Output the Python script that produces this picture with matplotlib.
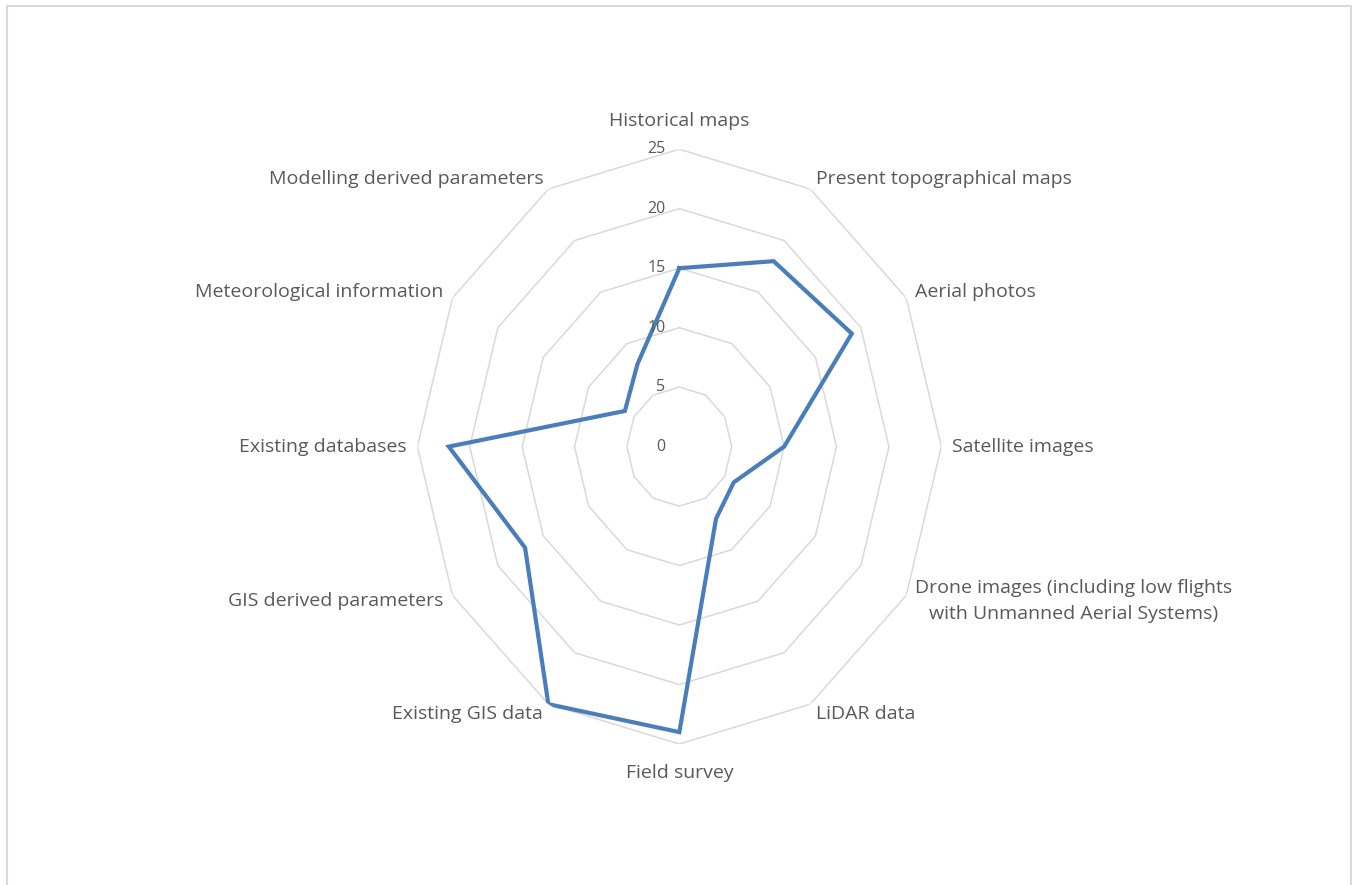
import numpy as np
import matplotlib.pyplot as plt
from matplotlib.patches import Rectangle

plt.rcParams['font.family'] = ['Open Sans', 'DejaVu Sans']

# categories, clockwise from the top
categories = ["Historical maps", "Present topographical maps", "Aerial photos",
              "Satellite images",
              "Drone images (including low flights\nwith Unmanned Aerial Systems)",
              "LiDAR data", "Field survey", "Existing GIS data",
              "GIS derived parameters", "Existing databases",
              "Meteorological information", "Modelling derived parameters"]
values = [15, 18, 19, 10, 6, 7, 24, 25, 17, 22, 6, 8]
rings = [5, 10, 15, 20, 25]
tick_labels = ["0", "5", "10", "15", "20", "25"]

n = len(categories)
theta = np.arange(n) * 2 * np.pi / n
theta_c = np.append(theta, theta[0])

fig = plt.figure(figsize=(13.56, 8.85), dpi=100)
# light frame of the chart area
fig.patches.append(Rectangle((7.3 / 1356, -0.05), (1351 - 7.3) / 1356, 1.05 - 5.7 / 885,
                             transform=fig.transFigure, fill=False,
                             edgecolor='#D9D9D9', lw=1.5))

ax = fig.add_axes([0.3078, 0.1593, 0.3864, 0.6721], projection='polar')
ax.set_aspect('auto')
ax.set_theta_zero_location('N')
ax.set_theta_direction(-1)
ax.set_ylim(0, 25)
ax.grid(False)
ax.set_xticks([])
ax.set_yticks([])
ax.spines['polar'].set_visible(False)
ax.patch.set_visible(False)

# polygon grid
for v in rings:
    ax.plot(theta_c, [v] * (n + 1), color='#D9D9D9', lw=1.1, zorder=1)

# data
ax.plot(theta_c, values + values[:1], color='#4A7EBB', lw=3.0, zorder=3,
        solid_joinstyle='miter')

# value labels on the vertical axis
for v, t in zip([0] + rings, tick_labels):
    ax.annotate(t, xy=(0, v), xytext=(-10, 0), textcoords='offset points',
                ha='right', va='center', fontsize=11.5, color='#595959')

# category labels
for ang, lab in zip(theta, categories):
    deg = np.degrees(ang)
    r = 26
    if np.isclose(deg, 0) or np.isclose(deg, 180):
        ha, va, r = 'center', 'center', 27.4
    elif deg < 180:
        ha, va = 'left', 'center'
    else:
        ha, va = 'right', 'center'
    ax.text(ang, r, lab, ha=ha, va=va, fontsize=14, color='#595959',
            multialignment='center', linespacing=1.6)

fig.savefig('out.png', dpi=100)
